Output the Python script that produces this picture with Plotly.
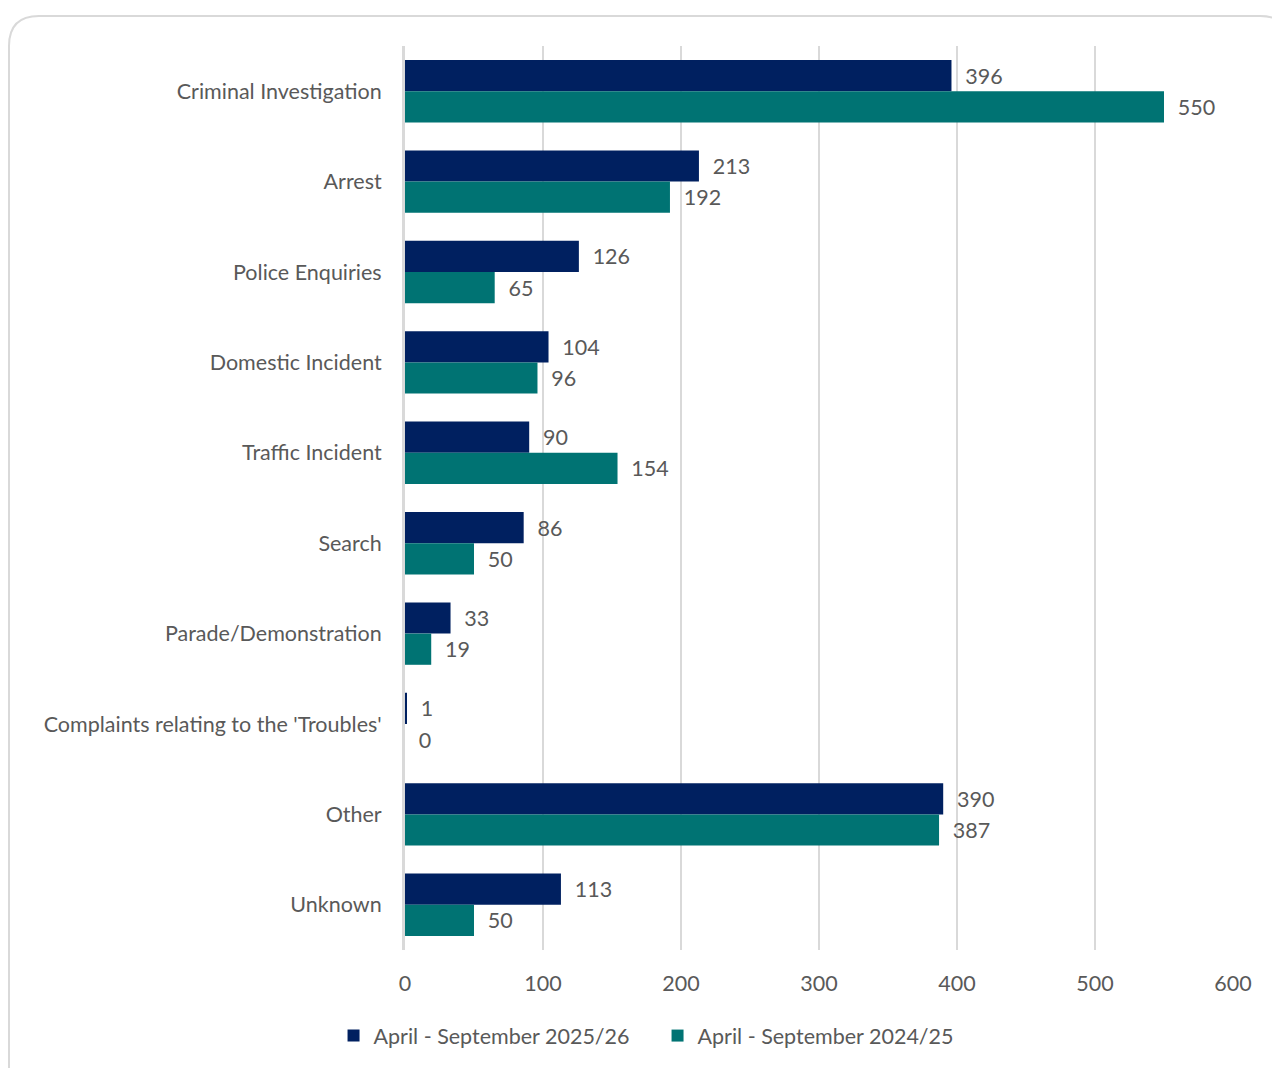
import plotly.graph_objects as go

categories = [
    "Criminal Investigation", "Arrest", "Police Enquiries", "Domestic Incident",
    "Traffic Incident", "Search", "Parade/Demonstration",
    "Complaints relating to the 'Troubles'", "Other", "Unknown",
]
current_period = [396, 213, 126, 104, 90, 86, 33, 1, 390, 113]
previous_period = [550, 192, 65, 96, 154, 50, 19, 0, 387, 50]
series_names = ["April - September 2025/26", "April - September 2024/25"]
x_ticks = [0, 100, 200, 300, 400, 500, 600]

NAVY = "#002060"
TEAL = "#007373"
TEXT = "#595959"
GRID = "#d9d9d9"
FONT = "Lato, 'Open Sans', sans-serif"
FS = 21.5

W, H = 1272, 1068
L, R, T, B = 405, 39, 46, 118

fig = go.Figure()
for name, vals, col in [(series_names[0], current_period, NAVY),
                        (series_names[1], previous_period, TEAL)]:
    fig.add_trace(go.Bar(
        y=categories, x=vals, name=name, orientation="h",
        marker=dict(color=col, line=dict(width=0)),
        # en-space pad keeps the value label clear of the bar end
        text=["\u2002" + str(v) for v in vals], textposition="outside",
        textfont=dict(color=TEXT, size=FS, family=FONT),
        cliponaxis=False,
    ))

# rounded frame around the whole chart, drawn in paper coordinates
pw, ph = W - L - R, H - T - B
def px(x):
    return (x - L) / pw
def py(y):
    return (H - B - y) / ph
x0, x1, y0, y1, r = 9, 1290, 16, 1090, 30
path = (f"M {px(x0)},{py(y1)} L {px(x0)},{py(y0 + r)} "
        f"Q {px(x0)},{py(y0)} {px(x0 + r)},{py(y0)} "
        f"L {px(x1 - r)},{py(y0)} Q {px(x1)},{py(y0)} {px(x1)},{py(y0 + r)} "
        f"L {px(x1)},{py(y1)}")

fig.update_layout(
    width=W, height=H,
    margin=dict(l=L, r=R, t=T, b=B),
    paper_bgcolor="white", plot_bgcolor="white",
    barmode="group", bargap=0.31, bargroupgap=0,
    font=dict(family=FONT, color=TEXT, size=FS),
    shapes=[dict(type="path", path=path, xref="paper", yref="paper",
                 line=dict(color=GRID, width=2), layer="below")],
    legend=dict(orientation="h", x=0.305, xanchor="center", y=-0.072,
                yanchor="top", font=dict(size=FS, color=TEXT, family=FONT),
                itemwidth=30, traceorder="normal",
                entrywidth=279, entrywidthmode="pixels"),
    showlegend=True,
)
fig.update_xaxes(
    range=[0, 600], tickvals=x_ticks, showgrid=True, gridcolor=GRID, gridwidth=2,
    zeroline=False, showline=False, ticks="", ticklabelstandoff=18,
    tickfont=dict(size=FS, color=TEXT, family=FONT),
)
fig.update_yaxes(
    categoryorder="array", categoryarray=categories, autorange="reversed",
    showline=True, linecolor=GRID, linewidth=3, ticks="", ticklabelstandoff=16,
    tickfont=dict(size=FS, color=TEXT, family=FONT),
)
fig.write_html("out.html")
